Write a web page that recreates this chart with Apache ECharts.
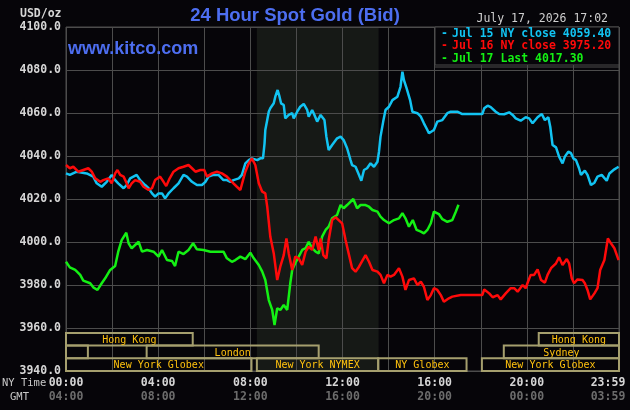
<!DOCTYPE html>
<html lang="en">
<head>
<meta charset="utf-8">
<style>
  html, body { margin: 0; padding: 0; background: #060509; }
  #container { width: 630px; height: 410px; }
</style>
<script src="https://cdn.jsdelivr.net/npm/echarts@6/dist/echarts.min.js"></script>
</head>
<body>
<div id="container"></div>
<script>
// minutes after 00:00 NY time, price
var blueData = [[0,4031.9],[10,4031.2],[28,4032.7],[54,4031.9],[71,4030.4],[80,4027.3],[93,4025.7],[106,4028.0],[119,4031.2],[128,4028.8],[136,4027.3],[150,4025.0],[158,4026.5],[167,4029.6],[184,4031.2],[193,4028.8],[206,4026.5],[215,4025.0],[224,4022.6],[232,4021.1],[241,4022.6],[250,4022.6],[258,4020.3],[267,4022.6],[280,4025.0],[293,4027.3],[306,4031.2],[315,4030.4],[328,4028.0],[341,4026.5],[354,4026.5],[363,4028.0],[371,4030.4],[384,4031.2],[397,4031.2],[410,4028.8],[419,4028.8],[428,4028.0],[436,4028.8],[450,4029.6],[458,4031.2],[467,4036.6],[476,4038.1],[484,4038.9],[498,4038.1],[506,4038.9],[513,4038.9],[517,4045.9],[519,4052.1],[524,4056.7],[528,4060.6],[532,4062.2],[541,4064.5],[545,4067.6],[551,4070.7],[556,4067.6],[560,4064.5],[567,4063.7],[571,4057.5],[580,4059.1],[589,4059.9],[593,4057.5],[602,4060.6],[610,4062.9],[619,4064.2],[628,4061.4],[632,4058.3],[641,4061.4],[645,4059.9],[654,4056.0],[663,4059.1],[667,4059.9],[673,4056.7],[678,4049.0],[684,4042.8],[693,4045.1],[706,4048.2],[715,4049.0],[723,4047.4],[732,4043.6],[741,4038.1],[745,4035.8],[754,4035.0],[763,4031.2],[769,4028.5],[776,4033.5],[784,4034.3],[793,4036.6],[802,4035.0],[811,4037.3],[815,4042.0],[819,4049.0],[826,4056.0],[832,4061.4],[841,4062.9],[850,4066.0],[863,4067.6],[871,4072.2],[876,4079.2],[880,4075.3],[887,4071.5],[896,4066.0],[902,4060.6],[915,4059.9],[924,4058.3],[932,4055.2],[941,4052.1],[945,4050.6],[958,4052.1],[967,4056.0],[980,4056.7],[993,4059.9],[1002,4060.6],[1006,4061.4],[1019,4060.6],[1032,4059.5],[1084,4059.5],[1089,4062.2],[1098,4063.4],[1106,4062.7],[1119,4060.6],[1128,4059.5],[1141,4059.4],[1154,4060.3],[1163,4059.1],[1171,4057.5],[1184,4056.4],[1197,4058.0],[1206,4057.5],[1215,4055.2],[1228,4058.0],[1239,4059.5],[1247,4056.7],[1256,4058.0],[1261,4053.6],[1267,4045.1],[1276,4044.0],[1284,4039.7],[1293,4036.6],[1299,4039.7],[1308,4042.0],[1315,4041.3],[1321,4038.9],[1328,4038.1],[1336,4034.3],[1341,4031.2],[1351,4033.2],[1358,4031.2],[1367,4026.5],[1376,4027.6],[1384,4030.4],[1395,4031.2],[1408,4028.5],[1415,4031.9],[1428,4033.8],[1439,4035.0]];

var redData = [[0,4035.8],[10,4034.3],[19,4035.0],[32,4032.7],[45,4033.5],[58,4034.3],[67,4032.7],[76,4029.6],[89,4028.0],[97,4028.8],[110,4029.6],[119,4027.3],[128,4031.9],[134,4033.5],[141,4031.2],[150,4030.4],[158,4027.3],[163,4025.0],[171,4027.3],[180,4028.8],[193,4028.0],[202,4025.7],[215,4024.2],[224,4025.0],[232,4028.8],[245,4030.4],[254,4028.0],[261,4026.0],[270,4029.6],[280,4032.7],[293,4034.3],[306,4035.0],[319,4035.8],[328,4034.3],[337,4032.7],[350,4033.5],[360,4033.5],[367,4030.4],[380,4031.9],[393,4032.7],[406,4031.9],[419,4030.4],[432,4028.0],[445,4025.7],[454,4024.2],[467,4032.7],[476,4036.6],[484,4038.9],[493,4035.8],[502,4027.3],[511,4023.4],[519,4022.6],[524,4016.4],[532,4002.5],[541,3994.7],[550,3982.3],[558,3988.5],[567,3993.9],[574,4001.7],[580,3994.7],[589,3987.0],[597,3993.2],[606,3992.4],[615,3989.3],[624,3995.5],[632,3997.8],[641,3996.3],[650,4002.5],[658,3996.3],[663,4001.7],[670,3993.9],[678,3992.4],[684,4000.9],[693,4010.2],[702,4011.5],[710,4010.2],[719,4008.7],[728,4000.9],[736,3994.7],[745,3987.8],[754,3986.2],[763,3988.5],[780,3993.9],[789,3990.8],[798,3987.0],[811,3986.2],[819,3984.7],[828,3980.8],[837,3984.7],[845,3983.9],[854,3984.7],[867,3987.8],[876,3983.9],[884,3977.7],[893,3982.3],[906,3983.1],[915,3980.0],[924,3981.5],[932,3979.2],[941,3973.0],[950,3975.3],[958,3978.5],[967,3977.7],[976,3975.3],[984,3972.2],[997,3973.8],[1006,3974.6],[1028,3975.3],[1084,3975.3],[1089,3977.9],[1102,3976.1],[1111,3974.3],[1124,3975.3],[1132,3973.3],[1145,3976.1],[1158,3978.5],[1167,3978.5],[1176,3976.9],[1189,3980.0],[1197,3978.5],[1203,3981.5],[1210,3984.7],[1219,3984.7],[1228,3987.3],[1237,3982.3],[1247,3981.1],[1254,3984.7],[1263,3987.8],[1276,3990.1],[1284,3992.9],[1293,3989.3],[1304,3992.1],[1310,3990.1],[1317,3983.1],[1323,3980.8],[1332,3982.6],[1345,3982.3],[1351,3980.8],[1358,3977.7],[1365,3973.3],[1376,3976.1],[1384,3978.5],[1391,3987.0],[1402,3991.6],[1411,4001.7],[1419,3999.4],[1428,3997.1],[1439,3991.6]];

var greenData = [[0,3990.8],[10,3988.2],[24,3987.0],[37,3984.7],[45,3982.0],[63,3980.8],[71,3978.9],[82,3977.7],[93,3980.8],[102,3983.1],[115,3987.0],[128,3988.8],[136,3995.5],[145,4000.9],[157,4004.3],[163,3999.4],[171,3997.1],[180,3998.6],[189,4000.1],[198,3995.5],[211,3996.3],[228,3995.5],[241,3993.2],[250,3996.3],[263,3991.6],[276,3991.2],[284,3988.8],[293,3995.5],[306,3994.4],[319,3996.3],[331,3999.4],[341,3996.6],[358,3996.3],[376,3995.5],[410,3995.5],[419,3992.4],[432,3990.8],[441,3991.6],[454,3993.2],[467,3992.0],[480,3995.0],[489,3992.4],[502,3989.3],[511,3986.2],[519,3982.3],[528,3973.0],[537,3968.4],[543,3961.4],[550,3969.2],[558,3968.4],[567,3970.7],[576,3968.4],[580,3967.6],[584,3980.8],[589,3987.0],[597,3990.1],[606,3993.2],[615,3996.3],[624,3997.1],[632,4000.1],[641,3997.1],[650,3995.5],[658,3994.7],[667,4002.5],[676,4005.6],[684,4007.1],[693,4011.0],[706,4012.6],[715,4017.2],[723,4015.7],[732,4017.2],[748,4020.0],[758,4015.7],[767,4017.2],[780,4017.2],[789,4016.4],[798,4014.9],[811,4014.1],[819,4011.8],[828,4010.2],[841,4008.7],[854,4010.2],[867,4011.0],[876,4013.4],[884,4011.0],[893,4007.1],[903,4010.2],[913,4005.6],[924,4004.8],[932,4004.0],[941,4005.6],[950,4008.7],[958,4014.1],[971,4013.0],[980,4010.6],[993,4009.4],[1006,4010.2],[1015,4014.1],[1022,4017.3]];

var nyLabels = ['00:00', '04:00', '08:00', '12:00', '16:00', '20:00', '23:59'];
var gmtLabels = ['04:00', '08:00', '12:00', '16:00', '20:00', '00:00', '03:59'];

// name, start minute, end minute, row (0 = bottom)
var sessions = [
  ['Hong Kong', 0, 330, 2],
  ['Hong Kong', 1231, 1440, 2],
  ['', 0, 57, 1],
  ['London', 210, 658, 1],
  ['Sydney', 1140, 1440, 1],
  ['New York Globex', 0, 483, 0],
  ['New York NYMEX', 497, 813, 0],
  ['NY Globex', 813, 1043, 0],
  ['New York Globex', 1083, 1440, 0]
];
var nymexShade = [[497, 814]];

var legendItems = ['Jul 15 NY close 4059.40', 'Jul 16 NY close 3975.20', 'Jul 17 Last 4017.30'];
var colors = ['#12c3f2', '#ff0a0a', '#14f014'];

var mono = '"DejaVu Sans Mono", monospace';
var bg = '#060509';

var dom = document.getElementById('container');
var myChart = echarts.init(dom, null, { renderer: 'canvas' });

var option = {
  backgroundColor: bg,
  animation: false,
  grid: { left: 66, right: 11, top: 27, bottom: 39, outerBoundsMode: 'none', containLabel: false, show: true, borderColor: '#4c4c4c', borderWidth: 1 },
  xAxis: {
    type: 'value',
    min: 0,
    max: 1440,
    interval: 120,
    axisLine: { show: false },
    axisTick: { show: false },
    splitLine: { lineStyle: { color: '#4c4c4c', width: 1 } },
    axisLabel: {
      margin: 5,
      formatter: function (v) {
        if (v % 240 !== 0) return '';
        var i = v / 240;
        if (i === 6) return '{c|' + nyLabels[i] + '}\n{d|' + gmtLabels[i] + '}';
        return '{a|' + nyLabels[i] + '}\n{b|' + gmtLabels[i] + '}';
      },
      rich: {
        a: { color: '#d6d6d6', fontFamily: mono, fontWeight: 'bold', fontSize: 11.5, lineHeight: 14 },
        b: { color: '#6c6c6c', fontFamily: mono, fontWeight: 'bold', fontSize: 11.5, lineHeight: 14 },
        c: { color: '#d6d6d6', fontFamily: mono, fontWeight: 'bold', fontSize: 11.5, lineHeight: 14, padding: [0, 22, 0, 0] },
        d: { color: '#6c6c6c', fontFamily: mono, fontWeight: 'bold', fontSize: 11.5, lineHeight: 14, padding: [0, 22, 0, 0] }
      }
    }
  },
  yAxis: {
    type: 'value',
    min: 3940,
    max: 4100,
    interval: 20,
    axisLine: { show: false },
    axisTick: { show: false },
    splitLine: { lineStyle: { color: '#4c4c4c', width: 1 } },
    axisLabel: {
      margin: 5,
      color: '#d6d6d6',
      fontFamily: mono,
      fontWeight: 'bold',
      fontSize: 11.5,
      formatter: function (v) { return v.toFixed(1); }
    }
  },
  graphic: [
    { type: 'text', left: 20, top: 8, style: { text: 'USD/oz', fill: '#d6d6d6', font: 'bold 11.5px ' + mono } },
    { type: 'text', x: 295, y: 16, style: { text: '24 Hour Spot Gold (Bid)', fill: '#4d6ef0', font: 'bold 18.5px "Liberation Sans", Arial', align: 'center', verticalAlign: 'middle' } },
    { type: 'text', x: 68, y: 49, z: 10, style: { text: 'www.kitco.com', fill: '#4d6ef0', font: 'bold 18px "Liberation Sans", Arial', verticalAlign: 'middle' } },
    { type: 'text', x: 608, y: 19, style: { text: 'July 17, 2026 17:02', fill: '#cfcfcf', font: '11.5px ' + mono, align: 'right', verticalAlign: 'middle' } },
    { type: 'rect', z: 10, shape: { x: 435, y: 27, width: 184, height: 38 }, style: { fill: bg, stroke: '#4c4c4c', lineWidth: 1 } },
    { type: 'line', z: 10, shape: { x1: 435, y1: 67, x2: 619, y2: 67 }, style: { stroke: '#4c4c4c', lineWidth: 1 } },
    { type: 'text', z: 11, x: 441, y: 34, style: { text: '-', fill: colors[0], font: 'bold 11.5px ' + mono, verticalAlign: 'middle' } },
    { type: 'text', z: 11, x: 452, y: 34, style: { text: legendItems[0], fill: colors[0], font: 'bold 11.5px ' + mono, verticalAlign: 'middle' } },
    { type: 'text', z: 11, x: 441, y: 46, style: { text: '-', fill: colors[1], font: 'bold 11.5px ' + mono, verticalAlign: 'middle' } },
    { type: 'text', z: 11, x: 452, y: 46, style: { text: legendItems[1], fill: colors[1], font: 'bold 11.5px ' + mono, verticalAlign: 'middle' } },
    { type: 'text', z: 11, x: 441, y: 59, style: { text: '-', fill: colors[2], font: 'bold 11.5px ' + mono, verticalAlign: 'middle' } },
    { type: 'text', z: 11, x: 452, y: 59, style: { text: legendItems[2], fill: colors[2], font: 'bold 11.5px ' + mono, verticalAlign: 'middle' } },
    { type: 'text', x: 2, y: 383, style: { text: 'NY Time', fill: '#c8c8c8', font: '10.5px ' + mono, verticalAlign: 'middle' } },
    { type: 'text', x: 10, y: 397, style: { text: 'GMT', fill: '#c8c8c8', font: '10.5px ' + mono, verticalAlign: 'middle' } }
  ],
  series: [
    {
      type: 'custom',
      z: -1,
      silent: true,
      data: nymexShade,
      renderItem: function (params, api) {
        var p0 = api.coord([api.value(0), 4100]);
        var p1 = api.coord([api.value(1), 3940]);
        return { type: 'rect', shape: { x: p0[0], y: p0[1], width: p1[0] - p0[0], height: p1[1] - p0[1] }, style: { fill: '#161916' } };
      }
    },
    {
      type: 'custom',
      z: 1,
      silent: true,
      data: sessions.map(function (s) { return [s[1], s[2], s[3]]; }),
      renderItem: function (params, api) {
        var name = sessions[params.dataIndex][0];
        var p0 = api.coord([api.value(0), 3940]);
        var p1 = api.coord([api.value(1), 3940]);
        var rowH = 12.7;
        var y = p0[1] - (api.value(2) + 1) * rowH;
        return {
          type: 'group',
          children: [
            { type: 'rect', shape: { x: p0[0], y: y, width: p1[0] - p0[0], height: rowH }, style: { fill: 'none', stroke: '#a59f6e', lineWidth: 2 } },
            { type: 'text', style: { text: name, x: (p0[0] + p1[0]) / 2, y: y + rowH / 2 + 1, align: 'center', verticalAlign: 'middle', fill: '#ffc20e', font: '10px ' + mono } }
          ]
        };
      }
    },
    { name: 'Jul 15', type: 'line', data: blueData, showSymbol: false, lineStyle: { color: colors[0], width: 2.5 }, z: 3 },
    { name: 'Jul 17', type: 'line', data: greenData, showSymbol: false, lineStyle: { color: colors[2], width: 2.5 }, z: 3 },
    { name: 'Jul 16', type: 'line', data: redData, showSymbol: false, lineStyle: { color: colors[1], width: 2.5 }, z: 3 }
  ]
};

myChart.setOption(option);
window.addEventListener('resize', myChart.resize);
</script>
</body>
</html>
